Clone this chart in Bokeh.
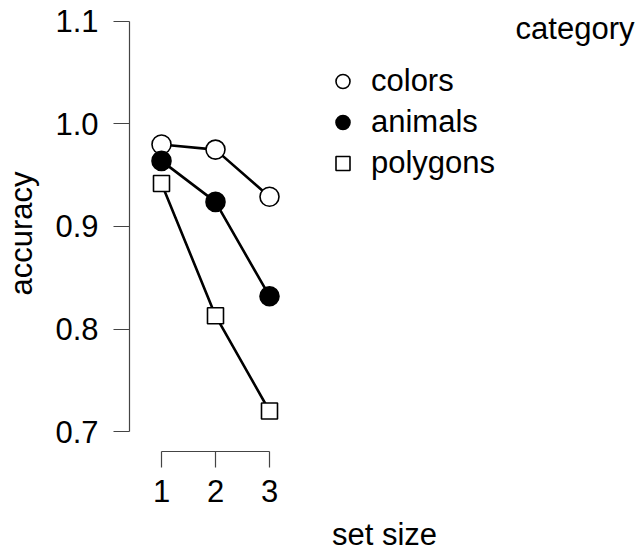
from bokeh.plotting import figure
from bokeh.models import (LinearAxis, FixedTicker, Range1d, Legend, LegendItem, Label)
from bokeh.embed import file_html
from bokeh.resources import INLINE

# ---- data ----
set_size = [1, 2, 3]
colors_acc = [0.980, 0.975, 0.929]
animals_acc = [0.964, 0.924, 0.832]
polygons_acc = [0.942, 0.813, 0.720]
category_names = ["colors", "animals", "polygons"]
y_ticks = [0.7, 0.8, 0.9, 1.0, 1.1]
y_tick_labels = ["0.7", "0.8", "0.9", "1.0", "1.1"]
x_ticks = [1, 2, 3]

FONT = "Liberation Sans"
FS = "31px"

W, H = 639, 554
p = figure(width=W, height=H, output_backend="svg", toolbar_location=None,
           x_range=Range1d(0.4074, 9.852), y_range=Range1d(0.68049, 1.10585),
           x_axis_type=None, y_axis_type=None,
           min_border_left=129, min_border_right=0, min_border_top=15, min_border_bottom=103)
p.outline_line_color = None
p.xgrid.visible = False
p.ygrid.visible = False
p.background_fill_color = "white"
p.border_fill_color = "white"

# axes (R style, detached by bounds)
yax = LinearAxis(ticker=FixedTicker(ticks=y_ticks), bounds=(0.7, 1.1))
yax.major_label_overrides = {t: l for t, l in zip(y_ticks, y_tick_labels)}
xax = LinearAxis(ticker=FixedTicker(ticks=x_ticks), bounds=(1, 3))
for ax in (xax, yax):
    ax.axis_line_color = "#444444"
    ax.axis_line_width = 1.2
    ax.major_tick_line_color = "#444444"
    ax.major_tick_line_width = 1.2
    ax.major_tick_out = 16
    ax.major_tick_in = 0
    ax.minor_tick_out = 0
    ax.minor_tick_in = 0
    ax.major_label_text_font = FONT
    ax.major_label_text_font_size = FS
    ax.major_label_text_color = "black"
    ax.axis_label_text_font = FONT
    ax.axis_label_text_font_size = FS
    ax.axis_label_text_font_style = "normal"
    ax.axis_label_text_color = "black"
yax.axis_label = "accuracy"
xax.axis_label = "set size"
yax.major_label_standoff = 15
yax.axis_label_standoff = 13
xax.major_label_standoff = 12
xax.axis_label_standoff = 12
yax.major_label_orientation = "horizontal"
p.add_layout(yax, "left")
p.add_layout(xax, "below")

# lines
for ys in (colors_acc, animals_acc, polygons_acc):
    p.line(set_size, ys, line_color="black", line_width=2.6)

r_col = p.scatter(set_size, colors_acc, marker="circle", size=19,
                  fill_color="white", line_color="black", line_width=1.6)
r_ani = p.scatter(set_size, animals_acc, marker="circle", size=19,
                  fill_color="black", line_color="black", line_width=1.6)
r_pol = p.scatter(set_size, polygons_acc, marker="square", size=16,
                  fill_color="white", line_color="black", line_width=1.6)

legend = Legend(items=[LegendItem(label=category_names[0], renderers=[r_col]),
                       LegendItem(label=category_names[1], renderers=[r_ani]),
                       LegendItem(label=category_names[2], renderers=[r_pol])],
                location=(196, 270), orientation="vertical")
legend.glyph_width = 35
legend.glyph_height = 36
legend.label_standoff = 11
legend.spacing = 5
legend.padding = 0
legend.margin = 0
legend.border_line_alpha = 0
legend.background_fill_alpha = 0
legend.label_text_font = FONT
legend.label_text_font_size = FS
legend.label_text_color = "black"
legend.label_text_baseline = "middle"
p.add_layout(legend, "center")

title = Label(x=505, y=423, x_units="screen", y_units="screen", text="category",
              text_align="right", text_baseline="alphabetic",
              text_font=FONT, text_font_size=FS, text_color="black")
p.add_layout(title)

open("out.html", "w").write(file_html(p, INLINE))
